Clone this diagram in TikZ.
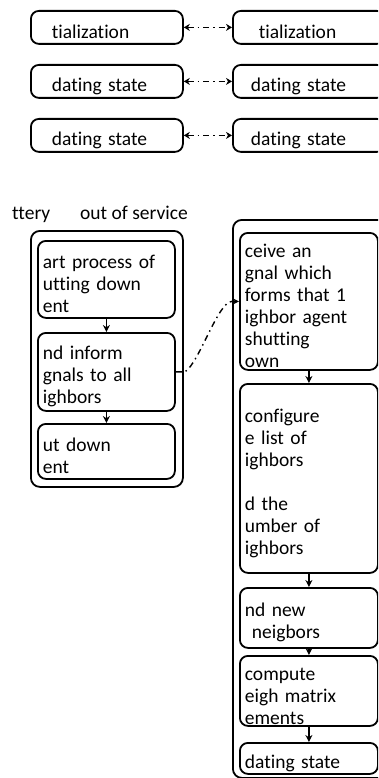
\documentclass[tikz,border=0pt]{standalone}
\usepackage{fontspec}
\setmainfont{Carlito}[Ligatures={NoCommon,NoRequired,NoContextual}]
\usetikzlibrary{arrows.meta}
\tikzset{
    stbox/.style={draw, line width=1.8pt, rounded corners=8pt, anchor=north west,
        align=left, inner ysep=0pt, font=\fontsize{19.5}{22}\selectfont,
        execute at begin node={\rule{0pt}{23pt}}},
    topbox/.style={stbox, text width=110pt, inner xsep=21pt, minimum height=33pt},
    lbox/.style={stbox, text width=127pt, inner xsep=5pt},
    rbox/.style={stbox, text width=128pt, inner xsep=5pt},
    grpbox/.style={draw, line width=1.8pt, rounded corners=9pt, anchor=north west, inner sep=0pt},
    lbl/.style={font=\fontsize{19.5}{22}\selectfont, inner sep=0pt, anchor=base west},
    flow/.style={line width=1.4pt, -{Stealth[length=7pt,width=7pt]}},
    sync/.style={line width=1.4pt, dash pattern=on 6pt off 4pt on 1.5pt off 4pt,
        {Stealth[length=6pt,width=7pt]}-{Stealth[length=6pt,width=7pt]}},
    notify/.style={line width=1.4pt, dash pattern=on 6pt off 4pt on 1.5pt off 4pt,
        -{Stealth[length=6pt,width=6pt]}}
}
\begin{document}
\begin{tikzpicture}[x=1pt, y=-1pt]
    \useasboundingbox (0,0) rectangle (378,778);
    \clip (0,0) rectangle (378,778);

    % agents side by side
    \node[topbox] (inita) at (30,10) {tialization};
    \node[topbox] (initb) at (232,10) {\hspace*{5pt}tialization};
    \node[topbox] (upda) at (30,64) {dating state};
    \node[topbox] (updb) at (232,64) {\hspace*{-3pt}dating state};
    \node[topbox] (updc) at (30,118) {dating state};
    \node[topbox] (updd) at (232,118) {\hspace*{-3pt}dating state};

    \draw[sync] (inita.east) -- (initb.west);
    \draw[sync] (upda.east) -- (updb.west);
    \draw[sync] (updc.east) -- (updd.west);

    % agent going down
    \node[lbl] (batt) at (12,219) {ttery};
    \node[lbl] (oos) at (80,219) {out of service};
    \node[grpbox, minimum width=152pt, minimum height=256pt] (lgrp) at (30,230) {};
    \node[lbox, minimum height=77pt] (lone) at (37,240) {art process of\\utting down\\ent};
    \node[lbox, minimum height=78pt] (ltwo) at (37,332) {nd inform\\gnals to all\\ighbors};
    \node[lbox, minimum height=55pt] (lthree) at (37,423) {ut down\\ent};

    \draw[flow] (lone) -- (ltwo);
    \draw[flow] (ltwo) -- (lthree);

    % neighbor agent
    \node[grpbox, minimum width=165pt, minimum height=558pt] (rgrp) at (232,219) {};
    \node[rbox, minimum height=137pt] (rone) at (239,232)
        {ceive an\\gnal which\\forms that 1\\ighbor agent\\shutting\\own};
    \node[rbox, minimum height=189pt] (rtwo) at (239,383)
        {configure\\e list of\\ighbors\\[22pt]d the\\umber of\\ighbors};
    \node[rbox, minimum height=60pt] (rthree) at (239,587) {nd new\\\hspace*{7pt}neigbors};
    \node[rbox, minimum height=70pt] (rfour) at (239,655) {compute\\eigh matrix\\ements};
    \node[rbox, minimum height=31pt] (rfive) at (239,742) {dating state};

    \draw[flow] (rone) -- (rtwo);
    \draw[flow] (rtwo) -- (rthree);
    \draw[flow] (rthree) -- (rfour);
    \draw[flow] (rfour) -- (rfive);

    \draw[notify] (ltwo.east) -- ++(9,0) .. controls +(14,-8) and +(-14,0) .. ([xshift=-7pt]rone.west) -- (rone.west);

\end{tikzpicture}
\end{document}
